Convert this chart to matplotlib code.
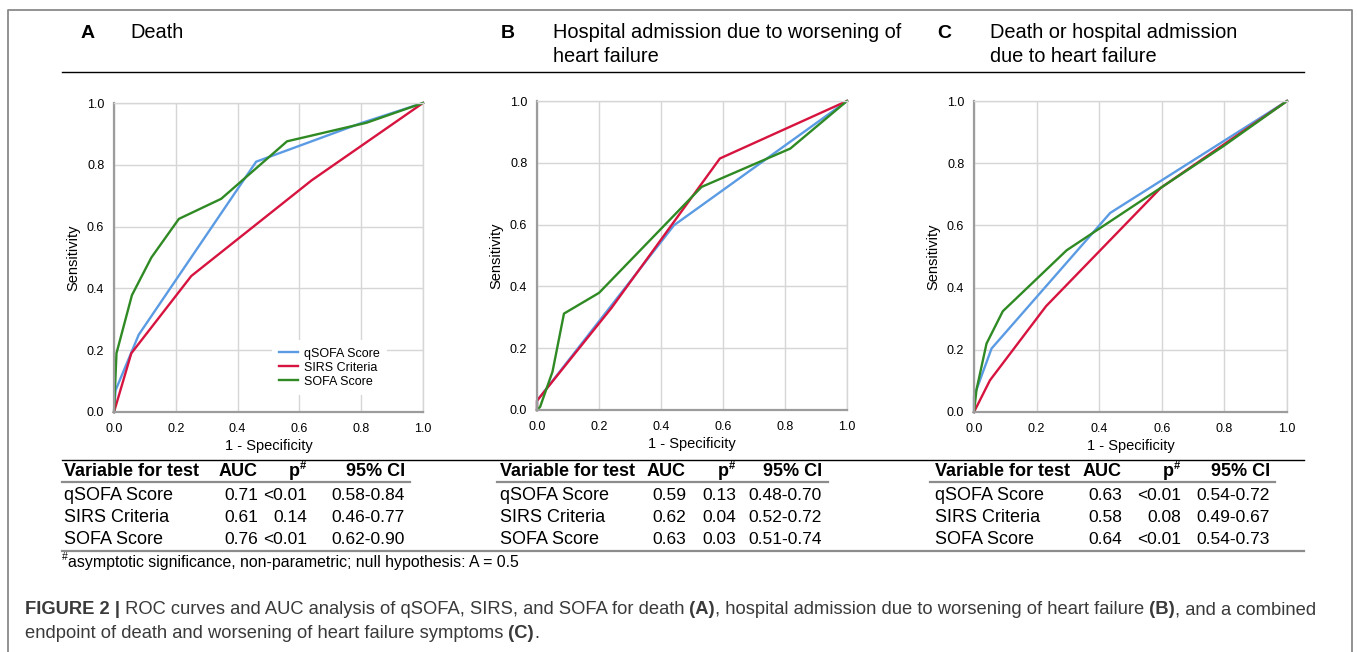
import matplotlib
matplotlib.use('Agg')
import matplotlib.pyplot as plt
from matplotlib.lines import Line2D

plt.rcParams['font.family'] = ['Liberation Sans', 'DejaVu Sans']

W, H = 1357, 652

# ROC points (x = 1 - specificity, y = sensitivity)
a_qsofa_x = [0.0, 0.005, 0.08, 0.46, 0.80, 1.0]
a_qsofa_y = [0.0, 0.07, 0.25, 0.81, 0.935, 1.0]
a_sirs_x = [0.0, 0.056, 0.25, 0.64, 1.0]
a_sirs_y = [0.0, 0.19, 0.44, 0.75, 1.0]
a_sofa_x = [0.0, 0.008, 0.058, 0.121, 0.21, 0.347, 0.56, 0.817, 1.0]
a_sofa_y = [0.0, 0.19, 0.378, 0.50, 0.625, 0.69, 0.876, 0.936, 1.0]

b_qsofa_x = [0.0, 0.0, 0.442, 1.0]
b_qsofa_y = [0.0, 0.03, 0.598, 1.0]
b_sirs_x = [0.0, 0.0, 0.24, 0.59, 1.0]
b_sirs_y = [0.0, 0.03, 0.33, 0.814, 1.0]
b_sofa_x = [0.0, 0.01, 0.05, 0.087, 0.20, 0.531, 0.817, 1.0]
b_sofa_y = [0.0, 0.01, 0.124, 0.312, 0.379, 0.722, 0.846, 1.0]

c_qsofa_x = [0.0, 0.0, 0.056, 0.435, 1.0]
c_qsofa_y = [0.0, 0.05, 0.204, 0.64, 1.0]
c_sirs_x = [0.0, 0.051, 0.23, 0.597, 1.0]
c_sirs_y = [0.0, 0.102, 0.34, 0.721, 1.0]
c_sofa_x = [0.0, 0.008, 0.04, 0.092, 0.296, 0.597, 0.797, 1.0]
c_sofa_y = [0.0, 0.072, 0.22, 0.324, 0.52, 0.721, 0.855, 1.0]

series_labels = ['qSOFA Score', 'SIRS Criteria', 'SOFA Score']
ticks = [0.0, 0.2, 0.4, 0.6, 0.8, 1.0]
tick_labels = ['0.0', '0.2', '0.4', '0.6', '0.8', '1.0']

panel_letters = ['A', 'B', 'C']
panel_titles = [['Death'],
                ['Hospital admission due to worsening of', 'heart failure'],
                ['Death or hospital admission', 'due to heart failure']]

table_header = ['Variable for test', 'AUC', 'p', '95% CI']
a_auc = ['0.71', '0.61', '0.76']
a_p = ['<0.01', '0.14', '<0.01']
a_ci = ['0.58-0.84', '0.46-0.77', '0.62-0.90']
b_auc = ['0.59', '0.62', '0.63']
b_p = ['0.13', '0.04', '0.03']
b_ci = ['0.48-0.70', '0.52-0.72', '0.51-0.74']
c_auc = ['0.63', '0.58', '0.64']
c_p = ['<0.01', '0.08', '<0.01']
c_ci = ['0.54-0.72', '0.49-0.67', '0.54-0.73']

footnote = 'asymptotic significance, non-parametric; null hypothesis: A = 0.5'
caption_line1 = [('FIGURE 2 |', True),
                 (' ROC curves and AUC analysis of qSOFA, SIRS, and SOFA for death', False),
                 (' (A)', True),
                 (', hospital admission due to worsening of heart failure', False),
                 (' (B)', True),
                 (', and a combined', False)]
caption_line2 = [('endpoint of death and worsening of heart failure symptoms', False),
                 (' (C)', True),
                 ('.', False)]

BLUE = '#5b9be3'
RED = '#d6143f'
GREEN = '#2f8a24'
GRID = '#d6d6d6'
SPINE = '#9c9c9c'


def fx(px):
    return px / W


def fy(py):
    return 1 - py / H


def add_roc_axes(fig, left, top, right, bottom):
    return fig.add_axes([fx(left), fy(bottom), (right - left) / W,
                         (bottom - top) / H])


def style_roc(ax):
    ax.set_xlim(0, 1)
    ax.set_ylim(0, 1)
    ax.set_xticks(ticks)
    ax.set_yticks(ticks)
    ax.set_xticklabels(tick_labels)
    ax.set_yticklabels(tick_labels)
    ax.grid(True, color=GRID, lw=1)
    ax.set_axisbelow(True)
    ax.tick_params(axis='both', length=0, labelsize=9)
    ax.tick_params(axis='x', pad=8)
    ax.tick_params(axis='y', pad=7)
    for side in ['top', 'right']:
        ax.spines[side].set_color(GRID)
        ax.spines[side].set_linewidth(1)
    for side in ['left', 'bottom']:
        ax.spines[side].set_color(SPINE)
        ax.spines[side].set_linewidth(1.6)
    ax.set_xlabel('1 - Specificity', fontsize=10.5, labelpad=3)
    ax.set_ylabel('Sensitivity', fontsize=10.5, labelpad=5)


def plot_curves(ax, qx, qy, sx, sy, gx, gy):
    kw = dict(lw=1.7, clip_on=False, solid_joinstyle='round')
    ax.plot(qx, qy, color=BLUE, label=series_labels[0], **kw)
    ax.plot(sx, sy, color=RED, label=series_labels[1], **kw)
    ax.plot(gx, gy, color=GREEN, label=series_labels[2], **kw)


def hline(fig, x0, x1, y, color, lw):
    fig.add_artist(Line2D([fx(x0), fx(x1)], [fy(y), fy(y)],
                          color=color, lw=lw))


def draw_table(fig, var_x, auc_r, p_r, ci_r, line_x0, line_x1,
               auc, pvals, ci):
    size = 13
    num_size = 12.5
    hy = 471
    fig.text(fx(var_x), fy(hy), table_header[0], fontsize=size,
             fontweight='bold', va='center', ha='left')
    fig.text(fx(auc_r), fy(hy), table_header[1], fontsize=size,
             fontweight='bold', va='center', ha='right')
    fig.text(fx(p_r - 7), fy(hy), table_header[2], fontsize=size,
             fontweight='bold', va='center', ha='right')
    fig.text(fx(p_r - 1), fy(hy - 5), '#', fontsize=8,
             fontweight='bold', va='center', ha='right')
    fig.text(fx(ci_r), fy(hy), table_header[3], fontsize=size,
             fontweight='bold', va='center', ha='right')
    hline(fig, line_x0, line_x1, 482, '#8c8c8c', 1.6)
    row_y = [496, 518, 540]
    for i, y in enumerate(row_y):
        fig.text(fx(var_x), fy(y), series_labels[i], fontsize=size,
                 va='center', ha='left')
        fig.text(fx(auc_r), fy(y), auc[i], fontsize=num_size,
                 va='center', ha='right')
        fig.text(fx(p_r), fy(y), pvals[i], fontsize=num_size,
                 va='center', ha='right')
        fig.text(fx(ci_r), fy(y), ci[i], fontsize=num_size,
                 va='center', ha='right')


def draw_runs(fig, renderer, x, y, runs, size, color):
    for s, bold in runs:
        t = fig.text(fx(x), fy(y), s, fontsize=size, color=color,
                     fontweight='bold' if bold else 'normal',
                     va='center', ha='left')
        x += t.get_window_extent(renderer=renderer).width


fig = plt.figure(figsize=(W / 100, H / 100), dpi=100)
renderer = fig.canvas.get_renderer()

# outer frame (open at the bottom)
frame = '#8a8a8a'
fig.add_artist(Line2D([fx(8), fx(8), fx(1352), fx(1352)],
                      [0, fy(10), fy(10), 0], color=frame, lw=1.3))

ax_a = add_roc_axes(fig, 114, 103, 423, 412)
ax_b = add_roc_axes(fig, 537, 101, 847, 410)
ax_c = add_roc_axes(fig, 974, 101, 1287, 412)

plot_curves(ax_a, a_qsofa_x, a_qsofa_y, a_sirs_x, a_sirs_y,
            a_sofa_x, a_sofa_y)
plot_curves(ax_b, b_qsofa_x, b_qsofa_y, b_sirs_x, b_sirs_y,
            b_sofa_x, b_sofa_y)
plot_curves(ax_c, c_qsofa_x, c_qsofa_y, c_sirs_x, c_sirs_y,
            c_sofa_x, c_sofa_y)
for ax in [ax_a, ax_b, ax_c]:
    style_roc(ax)

leg = ax_a.legend(loc='center left', bbox_to_anchor=(0.49, 0.143),
                  fontsize=9, frameon=True, fancybox=False,
                  edgecolor='none', facecolor='white', framealpha=1,
                  handlelength=1.5, handletextpad=0.5, labelspacing=0.16,
                  borderpad=0.6)

# panel titles
title_pos = [(88, 130), (508, 553), (944, 990)]
for (lx, tx), letter, lines in zip(title_pos, panel_letters, panel_titles):
    fig.text(fx(lx), fy(33), letter, fontsize=14, fontweight='bold',
             va='center', ha='center')
    for k, line in enumerate(lines):
        fig.text(fx(tx), fy(33 + 23 * k), line, fontsize=14.4,
                 va='center', ha='left')
hline(fig, 62, 1304, 72, 'black', 1.0)

# tables
hline(fig, 62, 1304, 460, 'black', 1.0)
hline(fig, 62, 1304, 551, '#8c8c8c', 1.6)
draw_table(fig, 64, 258, 307, 405, 62, 410, a_auc, a_p, a_ci)
draw_table(fig, 500, 686, 736, 822, 497, 828, b_auc, b_p, b_ci)
draw_table(fig, 935, 1122, 1181, 1270, 930, 1275, c_auc, c_p, c_ci)

fig.text(fx(62), fy(557), '#', fontsize=7.5, va='center', ha='left')
fig.text(fx(68), fy(562), footnote, fontsize=11.4, va='center', ha='left')

# caption
draw_runs(fig, renderer, 25, 610, caption_line1, 13.2, '#3a3a3a')
draw_runs(fig, renderer, 25, 634, caption_line2, 13.2, '#3a3a3a')

fig.savefig('out.png', dpi=100)
